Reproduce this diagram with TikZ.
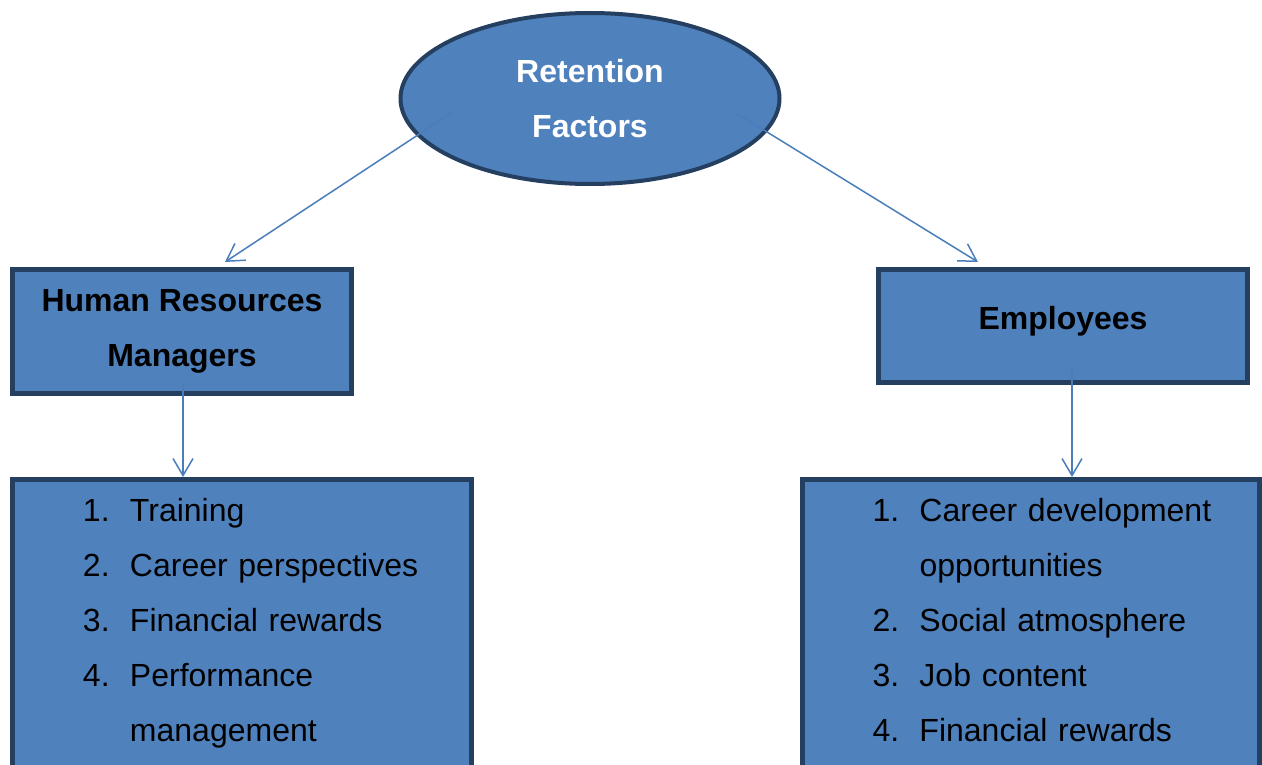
\documentclass[tikz,border=0pt]{standalone}
\usepackage{fontspec}
\setmainfont{Liberation Sans}
\usetikzlibrary{arrows.meta,shapes.geometric}
\usepackage{xcolor}
\definecolor{boxfill}{HTML}{4F81BD}
\definecolor{boxline}{HTML}{243F60}
\definecolor{arrline}{HTML}{4A7EBB}

\begin{document}
\begin{tikzpicture}[
  x=1pt, y=-1pt,
  oval/.style={ellipse, draw=boxline, fill=boxfill, line width=4pt, minimum width=379pt, minimum height=171pt, inner sep=0pt, text=white, align=center, font=\bfseries\fontsize{32}{55}\selectfont},
  box/.style={draw=boxline, fill=boxfill, line width=5pt, inner sep=0pt, align=center, font=\bfseries\fontsize{32}{55}\selectfont},
  list/.style={draw=boxline, fill=boxfill, line width=5pt, anchor=north west, inner xsep=0pt, inner ysep=3pt, align=left, text depth=300pt, font=\fontsize{32}{55}\selectfont},
  arr/.style={-{Straight Barb[length=17pt, width=20pt]}, draw=arrline, line width=1.5pt}
]
\useasboundingbox (0,0) rectangle (1262,765);
\clip (0,0) rectangle (1262,765);

\node[oval] (rf) at (590,98.5) {Retention\\Factors};
\node[box, minimum width=339pt, minimum height=124pt] (hrm) at (182,331.5) {Human Resources\\Managers};
\node[box, minimum width=369pt, minimum height=113pt, text height=23pt, text depth=16pt] (emp) at (1063,326) {Employees};

\node[list, text width=459pt] (hrmlist) at (10,477) {%
  \begin{tabular}[t]{@{\hspace{70.5pt}}p{47pt}@{}l@{}}
  1. & Training\\
  2. & Career perspectives\\
  3. & Financial rewards\\
  4. & Performance\\
     & management
  \end{tabular}};
\node[list, text width=457.5pt] (emplist) at (799.5,477) {%
  \begin{tabular}[t]{@{\hspace{70.5pt}}p{47pt}@{}l@{}}
  1. & Career development\\
     & opportunities\\
  2. & Social atmosphere\\
  3. & Job content\\
  4. & Financial rewards
  \end{tabular}};

% connectors start inside the shapes
\coordinate (rfl) at ([shift={(-138,14)}]rf.center);
\coordinate (rfr) at ([shift={(147,15)}]rf.center);
\coordinate (hrms) at ([shift={(1,51.5)}]hrm.center);
\coordinate (emps) at ([shift={(9,42)}]emp.center);

\draw[arr] (rfl) -- ([shift={(43,-5)}]hrm.north);
\draw[arr] (rfr) -- ([shift={(-85,-5)}]emp.north);
\draw[arr] (hrms) -- (hrms |- hrmlist.north);
\draw[arr] (emps) -- (emps |- emplist.north);
\end{tikzpicture}
\end{document}
